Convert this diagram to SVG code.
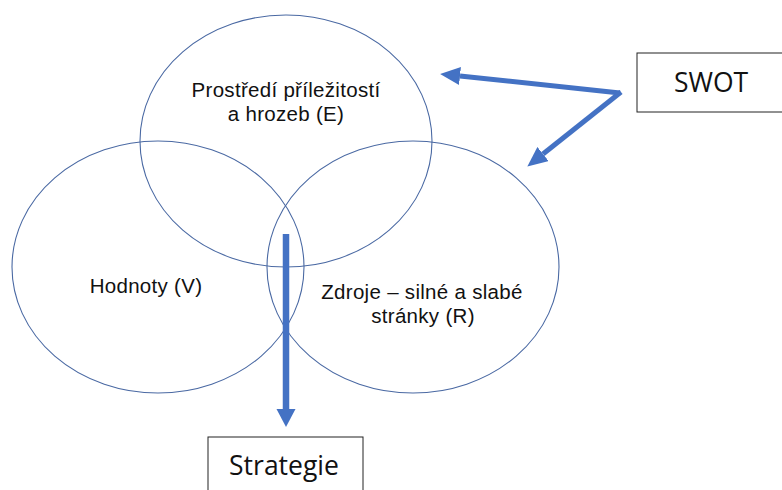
<svg xmlns="http://www.w3.org/2000/svg" width="782" height="490" viewBox="0 0 782 490">
<style>
.ell{fill:none;stroke:#4A69A3;stroke-width:1.1}
.lbl{font-family:"Liberation Sans",Arial,sans-serif;font-size:20.5px;letter-spacing:0.3px;fill:#111;text-anchor:middle}
.big{font-family:"Open Sans","Liberation Sans",sans-serif;font-size:26.5px;fill:#111;text-anchor:middle}
.box{fill:#fff;stroke:#222;stroke-width:1}
.arr{stroke:#4472C4;fill:none;stroke-linecap:butt}
</style>
<defs>
<marker id="head" markerUnits="userSpaceOnUse" viewBox="0 -9 20 18" refX="0" refY="0" markerWidth="20" markerHeight="18" orient="auto">
<path d="M0,-9 L20,0 L0,9 z" fill="#4472C4"/>
</marker>
</defs>
<rect width="782" height="490" fill="#fff"/>
<g id="node-E">
<ellipse class="ell" cx="286" cy="141" rx="146" ry="126"/>
<text class="lbl" x="286" y="97">Prostředí příležitostí</text>
<text class="lbl" x="286" y="121">a hrozeb (E)</text>
</g>
<g id="node-V">
<ellipse class="ell" cx="158" cy="267" rx="146" ry="126"/>
<text class="lbl" x="146" y="293">Hodnoty (V)</text>
</g>
<g id="node-R">
<ellipse class="ell" cx="413" cy="267" rx="146" ry="126"/>
<text class="lbl" x="422" y="299">Zdroje – silné a slabé</text>
<text class="lbl" x="423" y="323">stránky (R)</text>
</g>
<g id="node-SWOT">
<rect class="box" x="637" y="53" width="160" height="59"/>
<text class="big" x="711" y="92">SWOT</text>
</g>
<g id="node-Strategie">
<rect class="box" x="208" y="437" width="155" height="70"/>
<text class="big" x="284" y="475">Strategie</text>
</g>
<g id="connectors">
<line class="arr" x1="620" y1="93" x2="460" y2="76" stroke-width="5" marker-end="url(#head)"/>
<line class="arr" x1="621" y1="92" x2="543" y2="154" stroke-width="5" marker-end="url(#head)"/>
<line class="arr" x1="286" y1="234" x2="286" y2="409" stroke-width="6.5"/>
<path d="M276.5,409 L295.5,409 L286,427 z" fill="#4472C4"/>
</g>
</svg>
